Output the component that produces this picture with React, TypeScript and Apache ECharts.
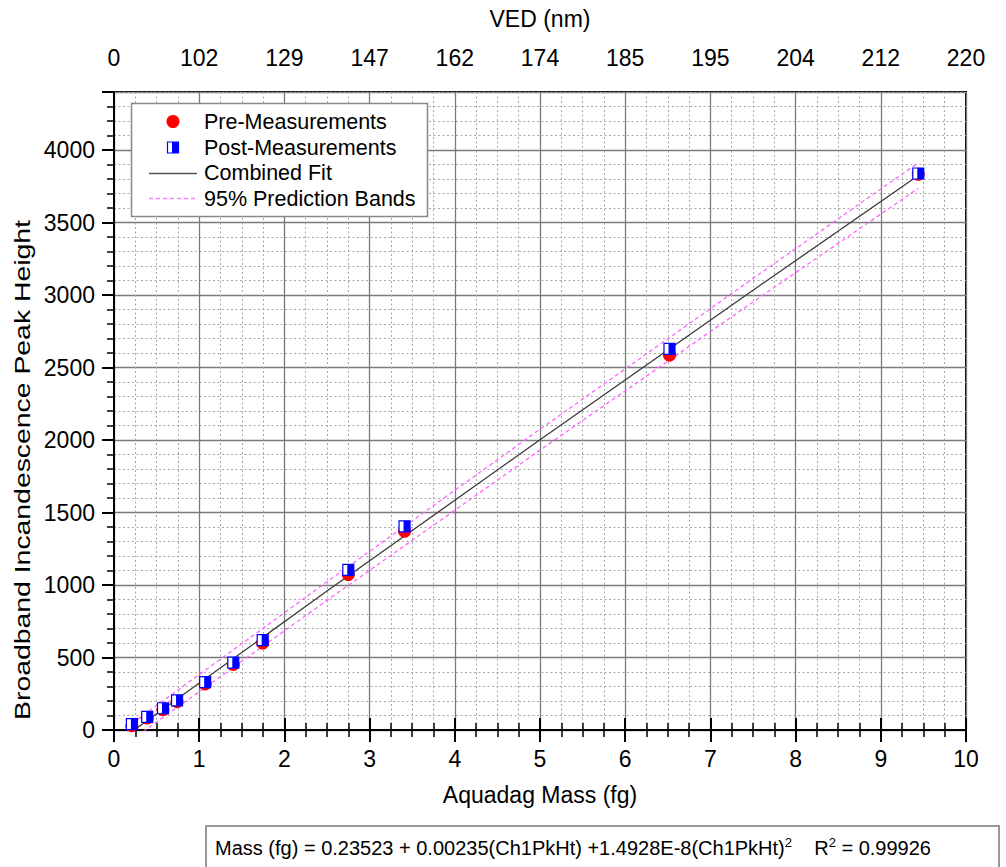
import React, { useEffect, useRef } from "react";
import * as echarts from "echarts";

// ---- data ----
const massFg = [0.21, 0.39, 0.575, 0.74, 1.07, 1.4, 1.745, 2.75, 3.41, 6.52, 9.44];
const prePeak = [30, 82, 140, 195, 318, 452, 600, 1072, 1370, 2585, 3832];
const postPeak = [40, 90, 150, 205, 330, 465, 620, 1105, 1405, 2628, 3838];

// combined fit line (x = mass, y = peak height)
const fitMass = [0.21, 2.5, 5, 7.5, 9.44];
const fitPeak = [-11, 958, 2002, 3033, 3824];
// 95% prediction bands
const bandMass = [0.21, 2.5, 5, 7.5, 9.44];
const bandUpper = [45, 1022, 2074, 3114, 3912];
const bandLower = [-67, 894, 1930, 2952, 3736];

const vedLabels = ["0", "102", "129", "147", "162", "174", "185", "195", "204", "212", "220"];

const FONT = "'Liberation Sans', Arial, Helvetica, sans-serif";

const pairs = (xs: number[], ys: number[]) => xs.map((x, i) => [x, ys[i]]);

export default function App() {
  const ref = useRef<HTMLDivElement>(null);
  useEffect(() => {
    if (!ref.current) return;
    const chart = echarts.init(ref.current, null, { renderer: "svg" });
    const minorColors = ["rgba(0,0,0,0)", "#a8a8a8", "#a8a8a8", "#a8a8a8", "#a8a8a8"];
    const option: any = {
      animation: false,
      backgroundColor: "#ffffff",
      textStyle: { fontFamily: FONT },
      grid: {
        left: 114,
        right: 40,
        top: 92,
        bottom: 137,
        show: true,
        borderColor: "#000",
        borderWidth: 2,
        backgroundColor: "#fff",
      },
      xAxis: [
        {
          type: "value",
          position: "bottom",
          min: 0,
          max: 10,
          interval: 1,
          name: "Aquadag Mass (fg)",
          nameLocation: "middle",
          nameGap: 53,
          nameTextStyle: { fontSize: 23, color: "#000", fontFamily: FONT },
          axisLine: { show: true, lineStyle: { color: "#000", width: 2 } },
          axisTick: { show: true, length: 12, lineStyle: { color: "#000", width: 2 } },
          minorTick: { show: true, splitNumber: 4, length: 7, lineStyle: { color: "#000", width: 1.5 } },
          axisLabel: { fontSize: 23, color: "#000", margin: 17, fontFamily: FONT },
          splitLine: { show: true, lineStyle: { color: "#7a7a7a", width: 1.3 } },
          minorSplitLine: { show: true, lineStyle: { color: "#a8a8a8", width: 1, type: [2, 2.5] } },
        },
        {
          type: "value",
          position: "top",
          min: 0,
          max: 10,
          interval: 1,
          name: "VED (nm)",
          nameLocation: "middle",
          nameGap: 62,
          nameTextStyle: { fontSize: 23, color: "#000", fontFamily: FONT },
          axisLine: { show: true, lineStyle: { color: "#000", width: 2 } },
          axisTick: { show: true, length: 12, lineStyle: { color: "#000", width: 2 } },
          minorTick: { show: true, splitNumber: 4, length: 7, lineStyle: { color: "#000", width: 1.5 } },
          axisLabel: {
            fontSize: 23,
            color: "#000",
            margin: 23,
            fontFamily: FONT,
            formatter: (v: number) => vedLabels[Math.round(v)] ?? "",
          },
          splitLine: { show: false },
        },
      ],
      yAxis: [
        {
          type: "value",
          position: "left",
          min: 0,
          max: 4400,
          interval: 500,
          axisLine: { show: true, lineStyle: { color: "#000", width: 2 } },
          axisTick: { show: true, length: 12, lineStyle: { color: "#000", width: 2 } },
          axisLabel: {
            fontSize: 23,
            color: "#000",
            margin: 19,
            fontFamily: FONT,
            formatter: (v: number) => (v > 4000 ? "" : String(v)),
          },
          splitLine: { show: true, lineStyle: { color: "#7a7a7a", width: 1.3 } },
        },
        {
          type: "value",
          position: "left",
          min: 0,
          max: 4400,
          interval: 100,
          axisLine: { show: false },
          axisTick: { show: true, length: 7, lineStyle: { color: "#000", width: 1.5 } },
          axisLabel: { show: false },
          splitLine: { show: true, lineStyle: { color: minorColors, width: 1, type: [2, 2.5] } },
        },
      ],
      series: [
        {
          name: "95% Prediction Bands",
          type: "line",
          xAxisIndex: 0,
          yAxisIndex: 0,
          data: pairs(bandMass, bandUpper),
          symbol: "none",
          lineStyle: { color: "#ff66ff", width: 1.3, type: [4, 3] },
          z: 3,
        },
        {
          name: "95% Prediction Bands (lower)",
          type: "line",
          xAxisIndex: 0,
          yAxisIndex: 0,
          data: pairs(bandMass, bandLower),
          symbol: "none",
          lineStyle: { color: "#ff66ff", width: 1.3, type: [4, 3] },
          z: 3,
        },
        {
          name: "Combined Fit",
          type: "line",
          xAxisIndex: 0,
          yAxisIndex: 0,
          data: pairs(fitMass, fitPeak),
          symbol: "none",
          lineStyle: { color: "#3a3a3a", width: 1.3 },
          z: 4,
        },
        {
          name: "Pre-Measurements",
          type: "scatter",
          xAxisIndex: 0,
          yAxisIndex: 0,
          data: pairs(massFg, prePeak),
          symbol: "circle",
          symbolSize: 13,
          itemStyle: { color: "#ff0000", opacity: 1 },
          z: 5,
        },
        {
          name: "Post-Measurements",
          type: "scatter",
          xAxisIndex: 0,
          yAxisIndex: 0,
          data: pairs(massFg, postPeak),
          symbol: "rect",
          symbolSize: 11,
          itemStyle: { color: "#ffffff", borderColor: "#0000ff", borderWidth: 1.2, opacity: 1 },
          z: 6,
        },
        {
          name: "Post-Measurements fill",
          type: "scatter",
          xAxisIndex: 0,
          yAxisIndex: 0,
          data: pairs(massFg, postPeak),
          symbol: "rect",
          symbolSize: [6.5, 11],
          symbolOffset: [2.25, 0],
          itemStyle: { color: "#0000ff", opacity: 1 },
          z: 7,
        },
      ],
      graphic: [
        {
          type: "text",
          z: 101,
          x: 22,
          y: 470,
          rotation: Math.PI / 2,
          scaleX: 1.29,
          style: {
            text: "Broadband Incandescence Peak Height",
            fontSize: 22,
            fontFamily: FONT,
            fill: "#000",
            align: "center",
            verticalAlign: "middle",
          },
        },
        {
          type: "rect",
          z: 100,
          shape: { x: 131.5, y: 103.5, width: 296, height: 113 },
          style: { fill: "#fff", stroke: "#888", lineWidth: 1.5 },
        },
        { type: "circle", z: 101, shape: { cx: 173, cy: 121.5, r: 6.5 }, style: { fill: "#ff0000" } },
        {
          type: "rect",
          z: 101,
          shape: { x: 167.5, y: 142, width: 11, height: 11 },
          style: { fill: "#fff", stroke: "#0000ff", lineWidth: 1.2 },
        },
        { type: "rect", z: 102, shape: { x: 172, y: 142, width: 6.5, height: 11 }, style: { fill: "#0000ff" } },
        {
          type: "line",
          z: 101,
          shape: { x1: 149, y1: 173.5, x2: 197, y2: 173.5 },
          style: { stroke: "#555", lineWidth: 1.5 },
        },
        {
          type: "line",
          z: 101,
          shape: { x1: 149, y1: 198.5, x2: 197, y2: 198.5 },
          style: { stroke: "#ff80ff", lineWidth: 1.3, lineDash: [4, 3] },
        },
        ...["Pre-Measurements", "Post-Measurements", "Combined Fit", "95% Prediction Bands"].map((t, i) => ({
          type: "text",
          z: 101,
          style: {
            text: t,
            x: 204,
            y: 122 + i * 25.6,
            fontSize: 21.5,
            fontFamily: FONT,
            fill: "#000",
            verticalAlign: "middle",
            align: "left",
          },
        })),
        {
          type: "rect",
          z: 100,
          shape: { x: 206, y: 826, width: 793, height: 60 },
          style: { fill: "#fff", stroke: "#777", lineWidth: 1.5 },
        },
        {
          type: "text",
          z: 101,
          style: {
            text:
              "{n|Mass (fg) = 0.23523 + 0.00235(Ch1PkHt) +1.4928E-8(Ch1PkHt)}{s|2}{n|    R}{s|2}{n| = 0.99926}",
            x: 573,
            y: 848,
            align: "center",
            verticalAlign: "middle",
            fontFamily: FONT,
            fill: "#000",
            rich: {
              n: { fontSize: 20, fontFamily: FONT, fill: "#000", lineHeight: 24 },
              s: { fontSize: 13, fontFamily: FONT, fill: "#000", lineHeight: 24, verticalAlign: "top" },
            },
          },
        },
      ],
    };
    chart.setOption(option);
    return () => chart.dispose();
  }, []);
  return (
    <div
      ref={ref}
      style={{ position: "fixed", left: 0, top: 0, width: 1006, height: 867, background: "#fff" }}
    />
  );
}
